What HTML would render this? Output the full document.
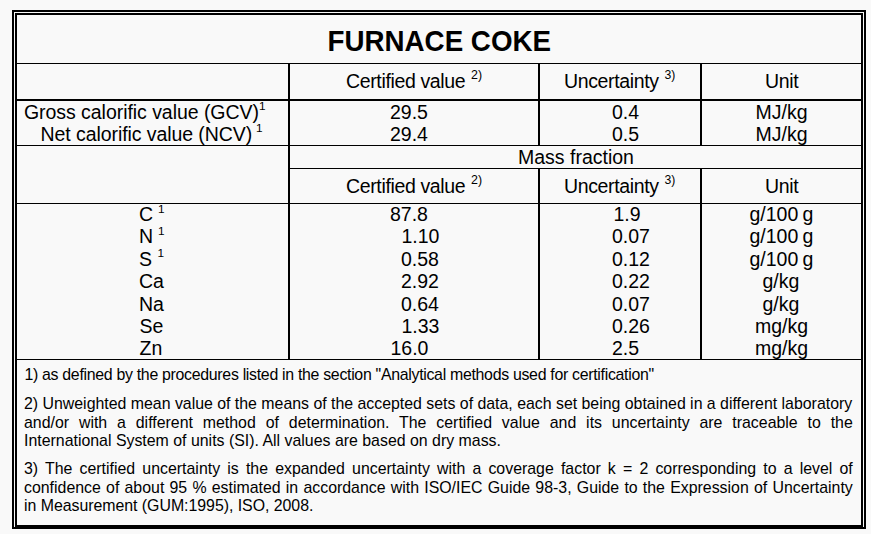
<!DOCTYPE html><html><head><meta charset="utf-8"><title>Furnace Coke</title><style>
html,body{margin:0;padding:0;background:#f9f9f9;}
body{width:871px;height:534px;position:relative;overflow:hidden;font-family:"Liberation Sans",Arial,sans-serif;color:#000}
.l{position:absolute;box-sizing:content-box}
.t{position:absolute;white-space:nowrap;line-height:1;margin:0}
.s{position:absolute;white-space:nowrap;line-height:1}
.p{position:absolute;left:24px;width:828.8px;margin:0;line-height:1;font-size:15.9px;white-space:nowrap}

</style></head><body>
<div class="l" style="left:12px;top:10px;width:854px;height:2px;background:#000"></div>
<div class="l" style="left:12px;top:527px;width:854px;height:2px;background:#000"></div>
<div class="l" style="left:12px;top:10px;width:2px;height:519px;background:#000"></div>
<div class="l" style="left:864px;top:10px;width:2px;height:519px;background:#000"></div>
<div class="l" style="left:15px;top:13px;width:848px;height:2px;background:#000"></div>
<div class="l" style="left:15px;top:525px;width:848px;height:2px;background:#000"></div>
<div class="l" style="left:15px;top:13px;width:2px;height:514px;background:#000"></div>
<div class="l" style="left:861px;top:13px;width:2px;height:514px;background:#000"></div>
<div class="l" style="left:17px;top:63px;width:844px;height:1px;background:#000"></div>
<div class="l" style="left:17px;top:99px;width:844px;height:2px;background:#000"></div>
<div class="l" style="left:17px;top:145px;width:844px;height:1px;background:#000"></div>
<div class="l" style="left:290px;top:168px;width:571px;height:1px;background:#000"></div>
<div class="l" style="left:17px;top:203px;width:844px;height:1px;background:#000"></div>
<div class="l" style="left:17px;top:359px;width:844px;height:1px;background:#000"></div>
<div class="l" style="left:288px;top:64px;width:2px;height:295px;background:#000"></div>
<div class="l" style="left:538px;top:64px;width:2px;height:81px;background:#000"></div>
<div class="l" style="left:538px;top:169px;width:2px;height:190px;background:#000"></div>
<div class="l" style="left:700px;top:64px;width:2px;height:81px;background:#000"></div>
<div class="l" style="left:700px;top:169px;width:2px;height:190px;background:#000"></div>
<div class="t" id="title" style="left:327.5px;top:27.51px;font-size:27.75px;font-weight:bold;transform-origin:0 23.49px;transform:scaleY(1.035)">FURNACE COKE</div>
<div class="t" id="cv1" style="left:346px;top:72.49px;font-size:19.5px;letter-spacing:-0.355px">Certified value</div>
<div class="t" id="cv1s" style="left:471px;top:69.00px;font-size:12.4px;">2)</div>
<div class="t" id="un1" style="left:564.0px;top:72.49px;font-size:19.5px;letter-spacing:-0.355px">Uncertainty</div>
<div class="t" id="un1s" style="left:664.4px;top:69.17px;font-size:12.2px;">3)</div>
<div class="t" id="unit1" style="left:765px;top:72.49px;font-size:19.5px;letter-spacing:-0.355px">Unit</div>
<div class="t" id="cv2" style="left:346px;top:177.19px;font-size:19.5px;letter-spacing:-0.355px">Certified value</div>
<div class="t" id="cv2s" style="left:471px;top:173.70px;font-size:12.4px;">2)</div>
<div class="t" id="un2" style="left:564.0px;top:177.19px;font-size:19.5px;letter-spacing:-0.355px">Uncertainty</div>
<div class="t" id="un2s" style="left:664.4px;top:173.87px;font-size:12.2px;">3)</div>
<div class="t" id="unit2" style="left:765px;top:177.19px;font-size:19.5px;letter-spacing:-0.355px">Unit</div>
<div class="t" id="gcv" style="left:24.0px;top:102.99px;font-size:19.5px;letter-spacing:-0.05px">Gross calorific value (GCV)</div>
<div class="t" id="gcvs" style="left:259.0px;top:101.01px;font-size:11.8px;">1</div>
<div class="t" id="ncv" style="left:40.6px;top:125.09px;font-size:19.5px;letter-spacing:-0.08px">Net calorific value (NCV)</div>
<div class="t" id="ncvs" style="left:256.0px;top:123.31px;font-size:11.8px;">1</div>
<div class="t" id="v295" style="left:390px;top:102.99px;font-size:19.5px;">29.5</div>
<div class="t" id="v294" style="left:390px;top:125.09px;font-size:19.5px;">29.4</div>
<div class="t" id="u04" style="left:612px;top:102.99px;font-size:19.5px;">0.4</div>
<div class="t" id="u05" style="left:612px;top:125.09px;font-size:19.5px;">0.5</div>
<div class="t" id="mj1" style="left:755.5px;top:102.99px;font-size:19.5px;">MJ/kg</div>
<div class="t" id="mj2" style="left:755.5px;top:125.09px;font-size:19.5px;">MJ/kg</div>
<div class="t" id="mass" style="left:518px;top:148.29px;font-size:19.5px;">Mass fraction</div>
<div class="t" id="el0" style="left:139.0px;top:205.09px;font-size:19.5px;">C</div>
<div class="t" id="els0" style="left:158px;top:203.71px;font-size:11.8px;">1</div>
<div class="t" id="val0" style="left:390px;top:205.09px;font-size:19.5px;">87.8</div>
<div class="t" id="unc0" style="left:613.5px;top:205.09px;font-size:19.5px;">1.9</div>
<div class="t" id="uni0" style="left:749.5px;top:205.09px;font-size:19.5px;word-spacing:-1.2px">g/100 g</div>
<div class="t" id="el1" style="left:139.0px;top:227.46px;font-size:19.5px;">N</div>
<div class="t" id="els1" style="left:158px;top:226.08px;font-size:11.8px;">1</div>
<div class="t" id="val1" style="left:401.5px;top:227.46px;font-size:19.5px;">1.10</div>
<div class="t" id="unc1" style="left:612.0px;top:227.46px;font-size:19.5px;">0.07</div>
<div class="t" id="uni1" style="left:749.5px;top:227.46px;font-size:19.5px;word-spacing:-1.2px">g/100 g</div>
<div class="t" id="el2" style="left:139.0px;top:249.83px;font-size:19.5px;">S</div>
<div class="t" id="els2" style="left:157.5px;top:248.45px;font-size:11.8px;">1</div>
<div class="t" id="val2" style="left:401px;top:249.83px;font-size:19.5px;">0.58</div>
<div class="t" id="unc2" style="left:612.0px;top:249.83px;font-size:19.5px;">0.12</div>
<div class="t" id="uni2" style="left:749.5px;top:249.83px;font-size:19.5px;word-spacing:-1.2px">g/100 g</div>
<div class="t" id="el3" style="left:139.0px;top:272.20px;font-size:19.5px;">Ca</div>
<div class="t" id="val3" style="left:401px;top:272.20px;font-size:19.5px;">2.92</div>
<div class="t" id="unc3" style="left:612.0px;top:272.20px;font-size:19.5px;">0.22</div>
<div class="t" id="uni3" style="left:762.5px;top:272.20px;font-size:19.5px;">g/kg</div>
<div class="t" id="el4" style="left:139.0px;top:294.57px;font-size:19.5px;">Na</div>
<div class="t" id="val4" style="left:401px;top:294.57px;font-size:19.5px;">0.64</div>
<div class="t" id="unc4" style="left:612.0px;top:294.57px;font-size:19.5px;">0.07</div>
<div class="t" id="uni4" style="left:762.5px;top:294.57px;font-size:19.5px;">g/kg</div>
<div class="t" id="el5" style="left:139.5px;top:316.94px;font-size:19.5px;">Se</div>
<div class="t" id="val5" style="left:401.5px;top:316.94px;font-size:19.5px;">1.33</div>
<div class="t" id="unc5" style="left:612.0px;top:316.94px;font-size:19.5px;">0.26</div>
<div class="t" id="uni5" style="left:755px;top:316.94px;font-size:19.5px;">mg/kg</div>
<div class="t" id="el6" style="left:139.5px;top:339.31px;font-size:19.5px;">Zn</div>
<div class="t" id="val6" style="left:390.5px;top:339.31px;font-size:19.5px;">16.0</div>
<div class="t" id="unc6" style="left:612.0px;top:339.31px;font-size:19.5px;">2.5</div>
<div class="t" id="uni6" style="left:755px;top:339.31px;font-size:19.5px;">mg/kg</div>
<div class="p" id="p1" style="top:366.74px;letter-spacing:-0.302px;left:24.4px">1) as defined by the procedures listed in the section "Analytical methods used for certification"</div>
<div class="p" id="p2a" style="top:396.14px;word-spacing:-0.05px">2) Unweighted mean value of the means of the accepted sets of data, each set being obtained in a different laboratory</div>
<div class="p" id="p2b" style="top:414.84px;text-align:justify;text-align-last:justify;">and/or with a different method of determination. The certified value and its uncertainty are traceable to the</div>
<div class="p" id="p2c" style="top:433.24px;">International System of units (SI). All values are based on dry mass.</div>
<div class="p" id="p3a" style="top:461.34px;text-align:justify;text-align-last:justify;">3) The certified uncertainty is the expanded uncertainty with a coverage factor k = 2 corresponding to a level of</div>
<div class="p" id="p3b" style="top:479.94px;text-align:justify;text-align-last:justify;">confidence of about 95 % estimated in accordance with ISO/IEC Guide 98-3, Guide to the Expression of Uncertainty</div>
<div class="p" id="p3c" style="top:498.24px;letter-spacing:-0.033px">in Measurement (GUM:1995), ISO, 2008.</div>
</body></html>
